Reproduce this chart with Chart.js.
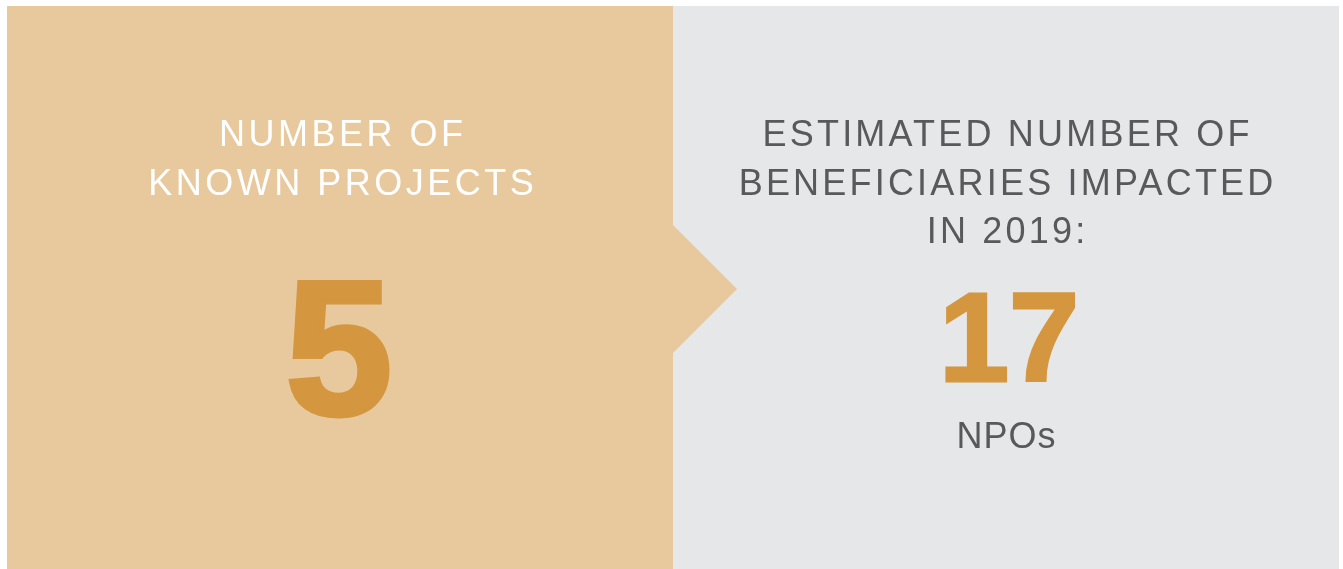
<!DOCTYPE html>
<html>
<head>
<meta charset="utf-8">
<script src="https://cdn.jsdelivr.net/npm/chart.js@4/dist/chart.umd.min.js"></script>
<style>
  html, body { margin: 0; padding: 0; background: #ffffff; }
  #wrap { width: 1343px; height: 569px; position: relative; }
</style>
</head>
<body>
<div id="wrap"><canvas id="infoCanvas"></canvas></div>
<script>
// panel contents
const panelTitles = [
  ["NUMBER OF", "KNOWN PROJECTS"],
  ["ESTIMATED NUMBER OF", "BENEFICIARIES IMPACTED", "IN 2019:"]
];
const panelValues = [5, 17];
const panelUnits = ["", "NPOs"];

const FONT = "'Liberation Sans', Arial, Helvetica, sans-serif";

// draws the two panels + arrow and all the text
const infographicPlugin = {
  id: "infographic",
  beforeDraw(chart) {
    const ctx = chart.ctx;
    const W = chart.width;
    const H = chart.height;
    const left = 7, top = 6, mid = 673, right = 1339;

    ctx.save();
    ctx.fillStyle = "#ffffff";
    ctx.fillRect(0, 0, W, H);

    // right panel (grey)
    ctx.fillStyle = "#e6e7e9";
    ctx.fillRect(mid, top, right - mid, H - top);

    // left panel (tan) with the arrow point
    ctx.fillStyle = "#e8c99e";
    ctx.beginPath();
    ctx.moveTo(left, top);
    ctx.lineTo(mid, top);
    ctx.lineTo(mid, 225);
    ctx.lineTo(737, 289);
    ctx.lineTo(mid, 353);
    ctx.lineTo(mid, H);
    ctx.lineTo(left, H);
    ctx.closePath();
    ctx.fill();

    ctx.textAlign = "center";
    ctx.textBaseline = "alphabetic";
    ctx.lineJoin = "miter";

    function spacedText(txt, x, y, spacing) {
      ctx.letterSpacing = spacing + "px";
      ctx.fillText(txt, x + spacing / 2, y);
      ctx.letterSpacing = "0px";
    }

    // heavy number: fill plus a same-colour stroke to fatten it
    function bigNumber(txt, x, y, size, weight) {
      ctx.font = "bold " + size + "px " + FONT;
      ctx.fillStyle = "#d4963e";
      ctx.strokeStyle = "#d4963e";
      ctx.lineWidth = weight;
      ctx.fillText(txt, x, y);
      ctx.strokeText(txt, x, y);
    }

    // left panel
    ctx.fillStyle = "#ffffff";
    ctx.font = "36px " + FONT;
    panelTitles[0].forEach((line, i) => spacedText(line, 341, 146 + i * 49, 3.5));
    bigNumber(String(panelValues[0]), 339, 414, 192, 5);

    // right panel
    ctx.fillStyle = "#58595b";
    ctx.font = "36px " + FONT;
    panelTitles[1].forEach((line, i) => spacedText(line, 1006, 146 + i * 48.5, 3.2));
    bigNumber(String(panelValues[1]), 1009, 381, 126, 3);
    ctx.fillStyle = "#58595b";
    ctx.font = "36px " + FONT;
    spacedText(panelUnits[1], 1006, 448, 1);

    ctx.restore();
  }
};

document.addEventListener("DOMContentLoaded", () => {
  const ctx = document.getElementById("infoCanvas").getContext("2d");
  new Chart(ctx, {
    type: "bar",
    data: {
      labels: ["Projects", "Beneficiaries"],
      datasets: [{ data: panelValues, backgroundColor: "rgba(0,0,0,0)", borderWidth: 0 }]
    },
    options: {
      responsive: true,
      maintainAspectRatio: false,
      animation: false,
      layout: { padding: 0 },
      plugins: { legend: { display: false }, tooltip: { enabled: false } },
      scales: { x: { display: false }, y: { display: false } }
    },
    plugins: [infographicPlugin]
  });
});
</script>
</body>
</html>
